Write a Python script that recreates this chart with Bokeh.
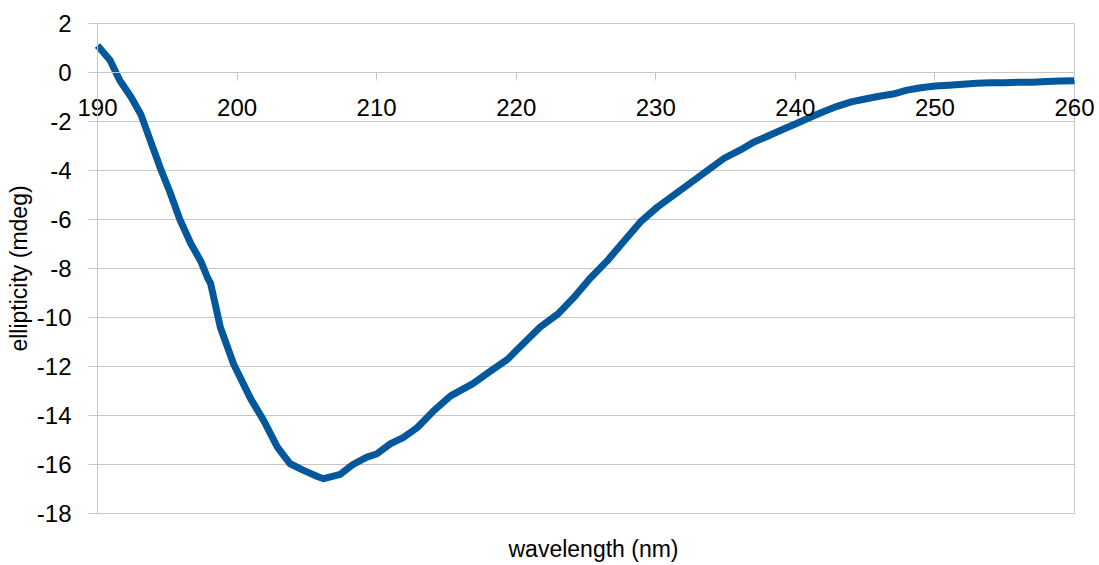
from bokeh.plotting import figure
from bokeh.models import Title, FixedTicker, Range1d
from bokeh.embed import file_html
from bokeh.resources import INLINE

wavelength = [
    190.0, 190.9, 191.6, 192.4, 193.1, 193.8, 194.5, 195.2, 195.9, 196.7,
    197.4, 197.9, 198.1, 198.8, 199.75, 200.96, 201.9, 202.9, 203.8, 204.8,
    205.8, 206.2, 207.4, 208.3, 209.3, 210.0, 211.0, 211.9, 212.9, 214.1,
    215.3, 216.9, 218.0, 219.4, 220.0, 221.7, 223.0, 224.1, 225.3, 226.5,
    227.7, 228.9, 230.1, 231.3, 232.5, 233.7, 234.9, 236.1, 237, 238,
    239, 240, 241, 242, 243, 244, 245, 246, 247, 248,
    249, 250, 251, 252, 253, 254, 255, 256, 257, 258,
    259, 260,
]
ellipticity = [
    1.1, 0.5, -0.33, -1.0, -1.7, -2.8, -3.9, -4.9, -6.0, -7.0,
    -7.7, -8.4, -8.6, -10.4, -11.9, -13.3, -14.2, -15.3, -15.97, -16.25,
    -16.5, -16.58, -16.4, -16.0, -15.7, -15.57, -15.15, -14.9, -14.5, -13.8,
    -13.2, -12.7, -12.25, -11.7, -11.35, -10.4, -9.85, -9.2, -8.4, -7.7,
    -6.9, -6.1, -5.5, -5.0, -4.5, -4.0, -3.5, -3.15, -2.85, -2.6,
    -2.35, -2.1, -1.85, -1.6, -1.38, -1.2, -1.08, -0.97, -0.88, -0.72,
    -0.62, -0.55, -0.52, -0.48, -0.44, -0.42, -0.42, -0.4, -0.4, -0.37,
    -0.35, -0.34,
]
x_ticks = [190, 200, 210, 220, 230, 240, 250, 260]
y_ticks = [2, 0, -2, -4, -6, -8, -10, -12, -14, -16, -18]
y_tick_labels = ["2", "0", "-2", "-4", "-6", "-8", "-10", "-12", "-14", "-16", "-18"]

FONT = "Liberation Sans"
GRID = "#c6c6c6"

X0, X1 = x_ticks[0], x_ticks[-1]
Y0, Y1 = y_ticks[-1], y_ticks[0]

# layout: the plotting area spans x 97..1074 px and y 23..513 px of the canvas;
# the frame is widened so the tick labels that hang over the edges are not clipped
FW, FH = 1099, 530
PL, PR, PT, PB = 97, 1074, 23, 513
kx = (X1 - X0) / (PR - PL)
ky = (Y1 - Y0) / (PB - PT)

p = figure(frame_width=FW, frame_height=FH,
           x_range=Range1d(X0 - PL * kx, X1 + (FW - PR) * kx),
           y_range=Range1d(Y0 - (FH - PB) * ky, Y1 + PT * ky),
           output_backend="svg", toolbar_location=None,
           min_border_left=0, min_border_right=0, min_border_top=0,
           min_border_bottom=0)
p.background_fill_color = "white"
p.border_fill_color = "white"
p.outline_line_color = None
p.xgrid.visible = False
p.ygrid.visible = False

# horizontal grid lines and right border of the plotting area
p.segment(x0=[X0] * len(y_ticks), x1=[X1] * len(y_ticks), y0=y_ticks, y1=y_ticks,
          line_color=GRID, line_width=1)
p.segment(x0=[X1], x1=[X1], y0=[Y0], y1=[Y1], line_color=GRID, line_width=1)

p.line(wavelength, ellipticity, line_color="#02589b", line_width=7,
       line_join="round", line_cap="butt")

# x axis crossing at y = 0
xa = p.xaxis[0]
xa.fixed_location = 0
xa.bounds = (X0, X1)
xa.ticker = FixedTicker(ticks=x_ticks)
xa.major_tick_out = 8
xa.major_tick_in = 0
xa.minor_tick_out = 0
xa.minor_tick_in = 0
xa.major_tick_line_color = GRID
xa.axis_line_color = GRID
xa.major_label_standoff = 18
xa.major_label_text_font = FONT
xa.major_label_text_font_size = "24px"
xa.major_label_text_color = "black"

# y axis at x = 190
ya = p.yaxis[0]
ya.fixed_location = X0
ya.bounds = (Y0, Y1)
ya.ticker = FixedTicker(ticks=y_ticks)
ya.major_label_overrides = dict(zip(y_ticks, y_tick_labels))
ya.major_tick_out = 9
ya.major_tick_in = 0
ya.minor_tick_out = 0
ya.minor_tick_in = 0
ya.major_tick_line_color = GRID
ya.axis_line_color = GRID
ya.major_label_standoff = 17
ya.major_label_text_font = FONT
ya.major_label_text_font_size = "24px"
ya.major_label_text_color = "black"
ya.axis_label = "ellipticity (mdeg)"
ya.axis_label_text_font = FONT
ya.axis_label_text_font_size = "23px"
ya.axis_label_text_font_style = "normal"
ya.axis_label_text_color = "black"
ya.axis_label_standoff = 2

xt = Title(text="wavelength (nm)", align="left", offset=508, vertical_align="bottom",
           text_font=FONT, text_font_size="23px", text_font_style="normal",
           text_color="black", standoff=7)
p.add_layout(xt, "below")

open("out.html", "w").write(file_html(p, INLINE))
